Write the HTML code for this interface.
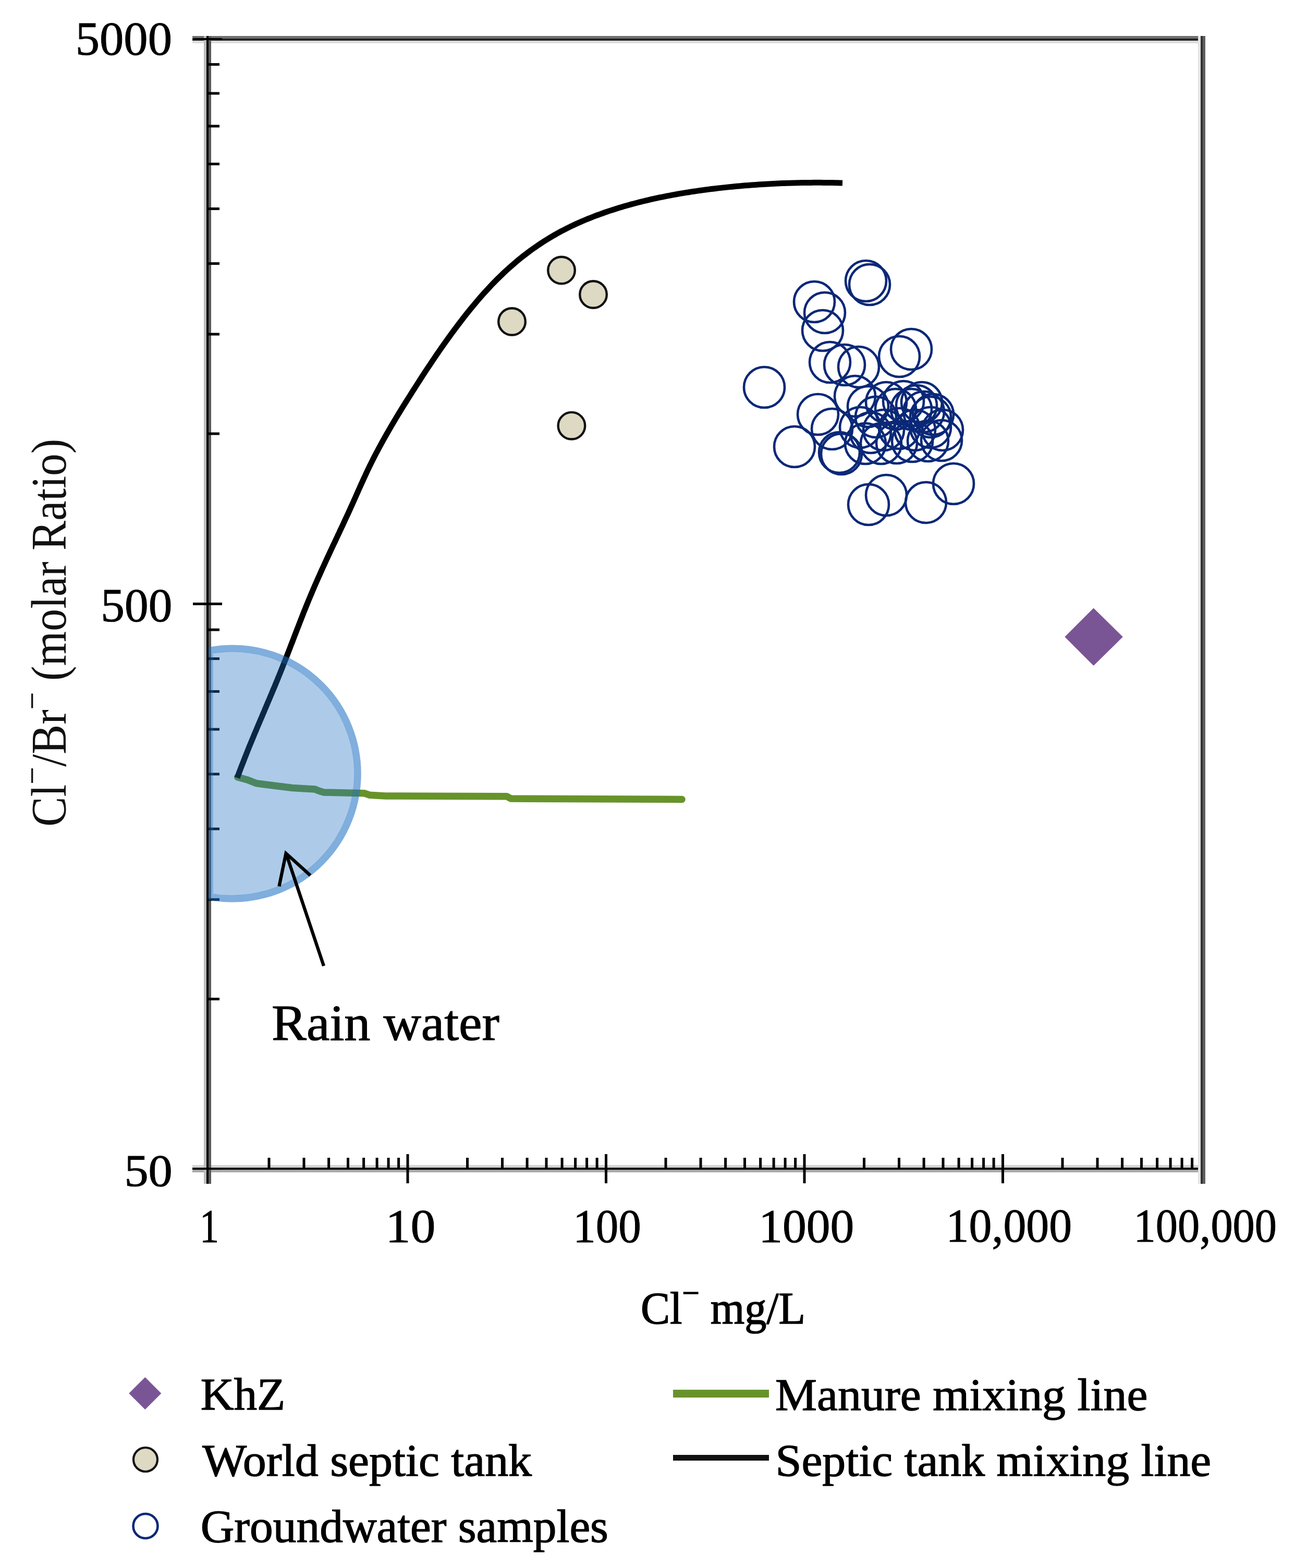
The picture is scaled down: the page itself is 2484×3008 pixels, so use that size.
<!DOCTYPE html>
<html><head><meta charset="utf-8"><title>Cl/Br ratio chart</title>
<style>html,body{margin:0;padding:0;background:#fff;}svg{display:block;}</style>
</head><body>
<svg xmlns="http://www.w3.org/2000/svg" width="2484" height="3008" viewBox="0 0 2484 3008">
<rect x="369.0" y="69.0" width="1943.0" height="5.0" fill="#707070"/>
<rect x="369.0" y="74.0" width="1943.0" height="4.0" fill="#222"/>
<rect x="369.0" y="78.0" width="1943.0" height="5.0" fill="#ddd"/>
<rect x="369.0" y="2235.0" width="1943.0" height="5.0" fill="#d3d3d3"/>
<rect x="369.0" y="2240.0" width="1943.0" height="4.0" fill="#0a0a0a"/>
<rect x="369.0" y="2244.0" width="1943.0" height="5.0" fill="#aaa"/>
<rect x="391.0" y="69.0" width="5.0" height="2202.0" fill="#bbb"/>
<rect x="396.0" y="69.0" width="4.0" height="2202.0" fill="#000"/>
<rect x="400.0" y="69.0" width="5.0" height="2202.0" fill="#5a5a5a"/>
<rect x="2298.0" y="69.0" width="5.0" height="2202.0" fill="#e3e3e3"/>
<rect x="2303.0" y="69.0" width="4.0" height="2202.0" fill="#333"/>
<rect x="2307.0" y="69.0" width="5.0" height="2202.0" fill="#5f5f5f"/>
<g stroke="#000" stroke-width="5">
<line x1="400" y1="1916.5" x2="421" y2="1916.5"/>
<line x1="400" y1="1725.6" x2="421" y2="1725.6"/>
<line x1="400" y1="1590.1" x2="421" y2="1590.1"/>
<line x1="400" y1="1485.0" x2="421" y2="1485.0"/>
<line x1="400" y1="1399.1" x2="421" y2="1399.1"/>
<line x1="400" y1="1326.5" x2="421" y2="1326.5"/>
<line x1="400" y1="1263.6" x2="421" y2="1263.6"/>
<line x1="400" y1="1208.1" x2="421" y2="1208.1"/>
<line x1="400" y1="832.0" x2="421" y2="832.0"/>
<line x1="400" y1="641.1" x2="421" y2="641.1"/>
<line x1="400" y1="505.6" x2="421" y2="505.6"/>
<line x1="400" y1="400.5" x2="421" y2="400.5"/>
<line x1="400" y1="314.6" x2="421" y2="314.6"/>
<line x1="400" y1="242.0" x2="421" y2="242.0"/>
<line x1="400" y1="179.1" x2="421" y2="179.1"/>
<line x1="400" y1="123.6" x2="421" y2="123.6"/>
<line x1="370" y1="1158.5" x2="426" y2="1158.5"/>
<line x1="370" y1="75" x2="426" y2="75" stroke-width="4"/>
<line x1="370" y1="2242" x2="426" y2="2242" stroke-width="4"/>
<line x1="516.0" y1="2242" x2="516.0" y2="2221"/>
<line x1="583.0" y1="2242" x2="583.0" y2="2221"/>
<line x1="630.6" y1="2242" x2="630.6" y2="2221"/>
<line x1="667.5" y1="2242" x2="667.5" y2="2221"/>
<line x1="697.6" y1="2242" x2="697.6" y2="2221"/>
<line x1="723.1" y1="2242" x2="723.1" y2="2221"/>
<line x1="745.1" y1="2242" x2="745.1" y2="2221"/>
<line x1="764.6" y1="2242" x2="764.6" y2="2221"/>
<line x1="896.5" y1="2242" x2="896.5" y2="2221"/>
<line x1="963.5" y1="2242" x2="963.5" y2="2221"/>
<line x1="1011.1" y1="2242" x2="1011.1" y2="2221"/>
<line x1="1048.0" y1="2242" x2="1048.0" y2="2221"/>
<line x1="1078.1" y1="2242" x2="1078.1" y2="2221"/>
<line x1="1103.6" y1="2242" x2="1103.6" y2="2221"/>
<line x1="1125.6" y1="2242" x2="1125.6" y2="2221"/>
<line x1="1145.1" y1="2242" x2="1145.1" y2="2221"/>
<line x1="1277.0" y1="2242" x2="1277.0" y2="2221"/>
<line x1="1344.0" y1="2242" x2="1344.0" y2="2221"/>
<line x1="1391.6" y1="2242" x2="1391.6" y2="2221"/>
<line x1="1428.5" y1="2242" x2="1428.5" y2="2221"/>
<line x1="1458.6" y1="2242" x2="1458.6" y2="2221"/>
<line x1="1484.1" y1="2242" x2="1484.1" y2="2221"/>
<line x1="1506.1" y1="2242" x2="1506.1" y2="2221"/>
<line x1="1525.6" y1="2242" x2="1525.6" y2="2221"/>
<line x1="1657.5" y1="2242" x2="1657.5" y2="2221"/>
<line x1="1724.5" y1="2242" x2="1724.5" y2="2221"/>
<line x1="1772.1" y1="2242" x2="1772.1" y2="2221"/>
<line x1="1809.0" y1="2242" x2="1809.0" y2="2221"/>
<line x1="1839.1" y1="2242" x2="1839.1" y2="2221"/>
<line x1="1864.6" y1="2242" x2="1864.6" y2="2221"/>
<line x1="1886.6" y1="2242" x2="1886.6" y2="2221"/>
<line x1="1906.1" y1="2242" x2="1906.1" y2="2221"/>
<line x1="2038.0" y1="2242" x2="2038.0" y2="2221"/>
<line x1="2105.0" y1="2242" x2="2105.0" y2="2221"/>
<line x1="2152.6" y1="2242" x2="2152.6" y2="2221"/>
<line x1="2189.5" y1="2242" x2="2189.5" y2="2221"/>
<line x1="2219.6" y1="2242" x2="2219.6" y2="2221"/>
<line x1="2245.1" y1="2242" x2="2245.1" y2="2221"/>
<line x1="2267.1" y1="2242" x2="2267.1" y2="2221"/>
<line x1="2286.6" y1="2242" x2="2286.6" y2="2221"/>
<line x1="782.0" y1="2214" x2="782.0" y2="2270"/>
<line x1="1162.5" y1="2214" x2="1162.5" y2="2270"/>
<line x1="1543.0" y1="2214" x2="1543.0" y2="2270"/>
<line x1="1923.5" y1="2214" x2="1923.5" y2="2270"/>
</g>
<polyline points="455.6,1490.7 474.6,1495.9 491.8,1502.8 526.4,1507.2 561.0,1511.5 604.2,1514.1 612.8,1517.5 621.4,1520.1 664.6,1521.0 699.2,1521.8 709.6,1525.3 740.0,1527.0 972.0,1527.8 980.0,1532.0 1308.0,1533.5" fill="none" stroke="#67932B" stroke-width="13.5" stroke-linejoin="round" stroke-linecap="round"/>
<polyline points="455.0,1492.1 457.1,1486.5 459.1,1481.0 461.2,1475.6 463.2,1470.2 465.3,1464.9 467.4,1459.6 469.4,1454.3 471.5,1449.1 473.5,1444.0 475.6,1438.8 477.6,1433.7 479.7,1428.7 481.8,1423.7 483.8,1418.7 485.9,1413.7 487.9,1408.7 490.0,1403.8 492.1,1398.9 494.1,1394.0 496.2,1389.1 498.2,1384.3 500.3,1379.4 502.4,1374.6 504.4,1369.7 506.5,1364.9 508.5,1360.0 510.6,1355.2 512.6,1350.3 514.7,1345.5 516.8,1340.6 518.8,1335.7 520.9,1330.8 522.9,1325.9 525.0,1321.0 527.1,1316.1 529.1,1311.1 531.2,1306.1 533.2,1301.1 535.3,1296.0 537.4,1290.9 539.4,1285.8 541.5,1280.6 543.5,1275.4 545.6,1270.2 547.6,1265.0 549.7,1259.7 551.8,1254.4 553.8,1249.1 555.9,1243.7 557.9,1238.4 560.0,1233.1 562.1,1227.7 564.1,1222.3 566.2,1217.0 568.2,1211.7 570.3,1206.3 572.4,1201.0 574.4,1195.7 576.5,1190.4 578.5,1185.2 580.6,1179.9 582.6,1174.7 584.7,1169.6 586.8,1164.4 588.8,1159.4 590.9,1154.3 592.9,1149.3 595.0,1144.4 597.1,1139.5 599.1,1134.6 601.2,1129.8 603.2,1125.0 605.3,1120.3 607.4,1115.6 609.4,1110.9 611.5,1106.3 613.5,1101.7 615.6,1097.1 617.6,1092.5 619.7,1088.0 621.8,1083.5 623.8,1079.0 625.9,1074.5 627.9,1070.1 630.0,1065.7 632.1,1061.2 634.1,1056.8 636.2,1052.4 638.2,1048.0 640.3,1043.7 642.4,1039.3 644.4,1034.9 646.5,1030.5 648.5,1026.1 650.6,1021.8 652.6,1017.4 654.7,1013.0 656.8,1008.6 658.8,1004.2 660.9,999.7 662.9,995.3 665.0,990.8 667.1,986.4 669.1,981.9 671.2,977.4 673.2,972.8 675.3,968.3 677.4,963.7 679.4,959.1 681.5,954.5 683.5,949.9 685.6,945.2 687.6,940.6 689.7,936.0 691.8,931.4 693.8,926.8 695.9,922.3 697.9,917.8 700.0,913.3 704.6,903.4 709.2,893.9 713.8,884.6 718.4,875.5 723.0,866.7 727.6,858.1 732.2,849.7 736.8,841.4 741.4,833.2 746.0,825.2 750.6,817.3 755.2,809.5 759.8,801.8 764.4,794.2 769.0,786.7 773.6,779.2 778.3,771.8 782.9,764.4 787.5,757.1 792.1,749.8 796.7,742.6 801.3,735.4 805.9,728.2 810.5,721.1 815.1,714.1 819.7,707.1 824.3,700.2 828.9,693.3 833.5,686.5 838.1,679.7 842.7,673.0 847.3,666.4 851.9,659.9 856.5,653.4 861.1,647.0 865.7,640.6 870.3,634.4 874.9,628.2 879.5,622.1 884.1,616.1 888.7,610.1 893.3,604.2 897.9,598.5 902.5,592.8 907.1,587.2 911.7,581.7 916.3,576.2 920.9,570.9 925.5,565.7 930.2,560.5 934.8,555.5 939.4,550.5 944.0,545.6 948.6,540.9 953.2,536.2 957.8,531.7 962.4,527.2 967.0,522.8 971.6,518.5 976.2,514.4 980.8,510.3 985.4,506.3 990.0,502.4 994.6,498.5 999.2,494.8 1003.8,491.2 1008.4,487.6 1013.0,484.1 1017.6,480.7 1022.2,477.4 1026.8,474.2 1031.4,471.0 1036.0,467.9 1040.6,464.9 1045.2,461.9 1049.8,459.1 1054.4,456.3 1059.0,453.5 1063.6,450.9 1068.2,448.2 1072.8,445.7 1077.4,443.2 1082.1,440.8 1086.7,438.4 1091.3,436.1 1095.9,433.9 1100.5,431.7 1105.1,429.6 1109.7,427.5 1114.3,425.4 1118.9,423.5 1123.5,421.5 1128.1,419.6 1132.7,417.8 1137.3,416.0 1141.9,414.2 1146.5,412.5 1151.1,410.8 1155.7,409.2 1160.3,407.5 1164.9,406.0 1169.5,404.4 1174.1,402.9 1178.7,401.4 1183.3,400.0 1187.9,398.6 1192.5,397.2 1197.1,395.8 1201.7,394.5 1206.3,393.2 1210.9,391.9 1215.5,390.7 1220.1,389.5 1224.7,388.3 1229.3,387.1 1233.9,386.0 1238.6,384.9 1243.2,383.8 1247.8,382.7 1252.4,381.7 1257.0,380.7 1261.6,379.7 1266.2,378.7 1270.8,377.8 1275.4,376.9 1280.0,375.9 1284.6,375.1 1289.2,374.2 1293.8,373.3 1298.4,372.5 1303.0,371.7 1307.6,370.9 1312.2,370.1 1316.8,369.4 1321.4,368.7 1326.0,367.9 1330.6,367.2 1335.2,366.6 1339.8,365.9 1344.4,365.2 1349.0,364.6 1353.6,364.0 1358.2,363.4 1362.8,362.8 1367.4,362.2 1372.0,361.7 1376.6,361.1 1381.2,360.6 1385.8,360.1 1390.5,359.6 1395.1,359.1 1399.7,358.6 1404.3,358.2 1408.9,357.7 1413.5,357.3 1418.1,356.9 1422.7,356.5 1427.3,356.1 1431.9,355.7 1436.5,355.4 1441.1,355.0 1445.7,354.7 1450.3,354.4 1454.9,354.1 1459.5,353.8 1464.1,353.5 1468.7,353.2 1473.3,352.9 1477.9,352.7 1482.5,352.5 1487.1,352.2 1491.7,352.0 1496.3,351.8 1500.9,351.6 1505.5,351.5 1510.1,351.3 1514.7,351.2 1519.3,351.0 1523.9,350.9 1528.5,350.8 1533.1,350.7 1537.7,350.6 1542.4,350.5 1547.0,350.5 1551.6,350.4 1556.2,350.4 1560.8,350.3 1565.4,350.3 1570.0,350.3 1574.6,350.3 1579.2,350.4 1583.8,350.4 1588.4,350.5 1593.0,350.5 1597.6,350.6 1602.2,350.7 1606.8,350.8 1611.4,350.9 1616.0,351.0" fill="none" stroke="#000" stroke-width="11" stroke-linejoin="round" stroke-linecap="butt"/>
<clipPath id="pc"><rect x="400" y="0" width="2100" height="3008"/></clipPath>
<g clip-path="url(#pc)"><circle cx="446" cy="1484" r="233.6" fill="#1C6FC2" fill-opacity="0.36"/><circle cx="446" cy="1484" r="240.0" fill="none" stroke="#1C6FC2" stroke-opacity="0.56" stroke-width="13.5"/></g>
<line x1="406.5" y1="1254.6" x2="406.5" y2="1713.4" stroke="#1C6FC2" stroke-opacity="0.3" stroke-width="5"/>
<g stroke="#000" stroke-width="6.3" fill="none">
<line x1="621" y1="1853" x2="549" y2="1638"/>
<polyline points="535.4,1700.4 548.5,1637 595.3,1679.4" stroke-linejoin="miter"/>
</g>
<circle cx="1077.0" cy="518.5" r="25.8" fill="#DDD9C3" stroke="#111" stroke-width="4.4"/>
<circle cx="1138.0" cy="565.0" r="25.8" fill="#DDD9C3" stroke="#111" stroke-width="4.4"/>
<circle cx="982.0" cy="617.0" r="25.8" fill="#DDD9C3" stroke="#111" stroke-width="4.4"/>
<circle cx="1096.4" cy="816.7" r="25.8" fill="#DDD9C3" stroke="#111" stroke-width="4.4"/>
<g fill="none" stroke="#0A2877" stroke-width="4.6">
<circle cx="1562.0" cy="579.0" r="39"/>
<circle cx="1582.0" cy="600.0" r="39"/>
<circle cx="1578.0" cy="634.0" r="39"/>
<circle cx="1661.0" cy="539.0" r="39"/>
<circle cx="1668.0" cy="546.0" r="39"/>
<circle cx="1748.0" cy="670.0" r="39"/>
<circle cx="1725.0" cy="684.0" r="39"/>
<circle cx="1592.0" cy="695.0" r="39"/>
<circle cx="1620.0" cy="700.0" r="39"/>
<circle cx="1647.0" cy="704.0" r="39"/>
<circle cx="1466.0" cy="743.0" r="39"/>
<circle cx="1524.0" cy="857.0" r="39"/>
<circle cx="1569.0" cy="795.0" r="39"/>
<circle cx="1596.0" cy="823.0" r="39"/>
<circle cx="1610.0" cy="868.0" r="39"/>
<circle cx="1614.0" cy="871.0" r="39"/>
<circle cx="1666.0" cy="968.0" r="39"/>
<circle cx="1700.0" cy="950.0" r="39"/>
<circle cx="1776.0" cy="964.0" r="39"/>
<circle cx="1829.0" cy="928.0" r="39"/>
<circle cx="1700.0" cy="772.0" r="39"/>
<circle cx="1733.0" cy="770.0" r="39"/>
<circle cx="1768.0" cy="772.0" r="39"/>
<circle cx="1790.0" cy="795.0" r="39"/>
<circle cx="1808.0" cy="825.0" r="39"/>
<circle cx="1806.0" cy="845.0" r="39"/>
<circle cx="1660.0" cy="851.0" r="39"/>
<circle cx="1690.0" cy="851.0" r="39"/>
<circle cx="1720.0" cy="850.0" r="39"/>
<circle cx="1750.0" cy="847.0" r="39"/>
<circle cx="1780.0" cy="846.0" r="39"/>
<circle cx="1680.0" cy="800.0" r="39"/>
<circle cx="1718.0" cy="785.0" r="39"/>
<circle cx="1748.0" cy="785.0" r="39"/>
<circle cx="1772.0" cy="790.0" r="39"/>
<circle cx="1758.0" cy="778.0" r="39"/>
<circle cx="1785.0" cy="800.0" r="39"/>
<circle cx="1695.0" cy="825.0" r="39"/>
<circle cx="1725.0" cy="822.0" r="39"/>
<circle cx="1755.0" cy="825.0" r="39"/>
<circle cx="1785.0" cy="820.0" r="39"/>
<circle cx="1650.0" cy="820.0" r="39"/>
<circle cx="1670.0" cy="830.0" r="39"/>
<circle cx="1640.0" cy="760.0" r="39"/>
<circle cx="1665.0" cy="780.0" r="39"/>
</g>
<polygon points="2097.6,1166.5 2153.8,1221.8 2097.6,1277.1 2042.3,1221.8" fill="#7A5596"/>
<text transform="translate(144.7,105.2) scale(1.0072,1)" font-size="91.97" font-family="'Liberation Serif','Times New Roman',serif" fill="#000" stroke="#000" stroke-width="1.0">5000</text>
<text transform="translate(193.3,1191.8) scale(0.9941,1)" font-size="91.97" font-family="'Liberation Serif','Times New Roman',serif" fill="#000" stroke="#000" stroke-width="1.0">500</text>
<text transform="translate(238.4,2275.1) scale(1.0648,1)" font-size="86.82" font-family="'Liberation Serif','Times New Roman',serif" fill="#000" stroke="#000" stroke-width="1.0">50</text>
<text transform="translate(382.9,2382.8) scale(0.8086,1)" font-size="91.52" font-family="'Liberation Serif','Times New Roman',serif" fill="#000" stroke="#000" stroke-width="1.0">1</text>
<text transform="translate(739.5,2382.8) scale(1.0475,1)" font-size="91.52" font-family="'Liberation Serif','Times New Roman',serif" fill="#000" stroke="#000" stroke-width="1.0">10</text>
<text transform="translate(1099.3,2382.8) scale(0.9468,1)" font-size="91.97" font-family="'Liberation Serif','Times New Roman',serif" fill="#000" stroke="#000" stroke-width="1.0">100</text>
<text transform="translate(1455.2,2382.8) scale(0.9960,1)" font-size="91.97" font-family="'Liberation Serif','Times New Roman',serif" fill="#000" stroke="#000" stroke-width="1.0">1000</text>
<text transform="translate(1814.6,2382.4) scale(0.9681,1)" font-size="90.76" font-family="'Liberation Serif','Times New Roman',serif" fill="#000" stroke="#000" stroke-width="1.0">10,000</text>
<text transform="translate(2174.6,2382.2) scale(0.9290,1)" font-size="90.91" font-family="'Liberation Serif','Times New Roman',serif" fill="#000" stroke="#000" stroke-width="1.0">100,000</text>
<text transform="translate(1229.0,2538.9) scale(0.9642,1)" font-size="87.25" font-family="'Liberation Serif','Times New Roman',serif" fill="#000" stroke="#000" stroke-width="1.5">Cl<tspan dy="-0.62em" font-size="0.7em">&#8722;</tspan><tspan dy="0.434em"> mg/L</tspan></text>
<text transform="translate(126.0,1585.7) rotate(-90) scale(0.8933,1)" font-size="96.00" font-family="'Liberation Serif','Times New Roman',serif" fill="#111">Cl<tspan dy="-0.62em" font-size="0.7em">&#8722;</tspan><tspan dy="0.434em">/Br</tspan><tspan dy="-0.62em" font-size="0.7em">&#8722;</tspan><tspan dy="0.434em"> (molar Ratio)</tspan></text>
<text transform="translate(521.1,1994.7) scale(1.0270,1)" font-size="97.58" font-family="'Liberation Serif','Times New Roman',serif" fill="#000" stroke="#000" stroke-width="1.2">Rain water</text>
<text transform="translate(384.7,2704.2) scale(1.0313,1)" font-size="85.94" font-family="'Liberation Serif','Times New Roman',serif" fill="#000" stroke="#000" stroke-width="1.3">KhZ</text>
<text transform="translate(388.2,2830.8) scale(1.0461,1)" font-size="85.94" font-family="'Liberation Serif','Times New Roman',serif" fill="#000" stroke="#000" stroke-width="1.3">World septic tank</text>
<text transform="translate(384.7,2958.2) scale(1.0116,1)" font-size="88.41" font-family="'Liberation Serif','Times New Roman',serif" fill="#000" stroke="#000" stroke-width="1.3">Groundwater samples</text>
<text transform="translate(1487.1,2705.2) scale(1.0328,1)" font-size="87.10" font-family="'Liberation Serif','Times New Roman',serif" fill="#000" stroke="#000" stroke-width="1.3">Manure mixing line</text>
<text transform="translate(1487.5,2830.8) scale(1.0401,1)" font-size="86.38" font-family="'Liberation Serif','Times New Roman',serif" fill="#000" stroke="#000" stroke-width="1.3">Septic tank mixing line</text>
<polygon points="278.3,2642 309.3,2673 278.3,2704 247.3,2673" fill="#7A5596"/>
<circle cx="279" cy="2800" r="23" fill="#DDD9C3" stroke="#111" stroke-width="4.2"/>
<circle cx="279" cy="2927.5" r="23.5" fill="none" stroke="#0A2877" stroke-width="4.6"/>
<line x1="1291" y1="2673.5" x2="1475" y2="2673.5" stroke="#67932B" stroke-width="15"/>
<line x1="1291" y1="2796.5" x2="1475" y2="2796.5" stroke="#111" stroke-width="11"/>
</svg>
</body></html>
